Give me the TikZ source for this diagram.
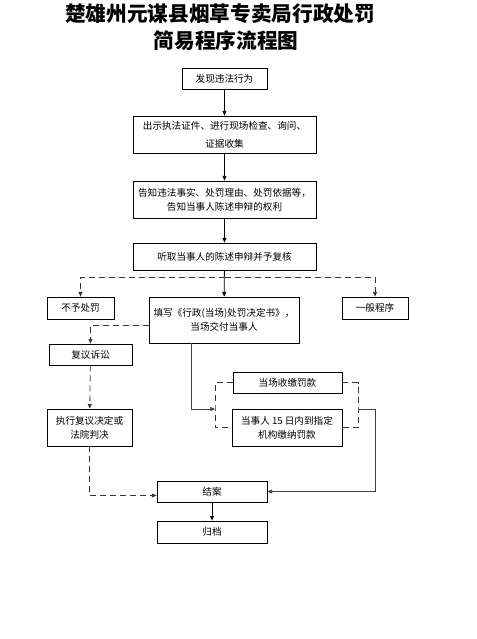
\documentclass[tikz,border=0pt]{standalone}
\usepackage{fontspec}
\newfontfamily\cjk{Noto Sans CJK SC}
\usetikzlibrary{arrows.meta}

\begin{document}
\begin{tikzpicture}[x=0.75pt,y=-0.75pt,
    every node/.style={font=\cjk\fontsize{7.2pt}{10.5pt}\selectfont},
    box/.style={draw,line width=0.6pt,inner sep=0pt,align=center},
    link/.style={line width=0.6pt,-{Triangle[length=3.5pt,width=3pt]}},
    gaplink/.style={link,dashed,dash pattern=on 4.5pt off 3pt,draw=black!80},
    bracket/.style={line width=0.6pt,dashed,dash pattern=on 4.5pt off 3pt,draw=black!80}]
\useasboundingbox (0,0) rectangle (476,639);
% title
\node (title1) at (220,14) {\fontsize{15.5pt}{18pt}\selectfont\bfseries 楚雄州元谋县烟草专卖局行政处罚};
\node (title2) at (226,41) {\fontsize{15.5pt}{18pt}\selectfont\bfseries 简易程序流程图};
% main steps
\node[box,minimum width=63.75pt,minimum height=15.75pt] (find) at (224.5,78.5) {发现违法行为};
\node[box,minimum width=137.25pt,minimum height=27.75pt] (show) at (224.5,134.5) {出示执法证件、进行现场检查、询问、\\[3pt]证据收集};
\node[box,minimum width=137.25pt,minimum height=27.75pt] (inform) at (224.5,199.5) {告知违法事实、处罚理由、处罚依据等，\\告知当事人陈述申辩的权利};
\node[box,minimum width=137.25pt,minimum height=20.25pt] (hear) at (224.5,256.5) {听取当事人的陈述申辩并予复核};
\node[box,minimum width=50.25pt,minimum height=16.5pt] (none) at (80.5,308) {不予处罚};
\node[box,minimum width=112.5pt,minimum height=34.5pt] (fill) at (224,320) {填写《行政(当场)处罚决定书》，\\当场交付当事人};
\node[box,minimum width=49.5pt,minimum height=16.5pt] (general) at (375,308) {一般程序};
\node[box,minimum width=62.25pt,minimum height=15.75pt] (review) at (90.5,354.5) {复议诉讼};
\node[box,minimum width=63.75pt,minimum height=27.75pt] (execute) at (89.5,427.5) {执行复议决定或\\法院判决};
\node[box,minimum width=81.75pt,minimum height=15.75pt] (onsite) at (287.5,382.5) {当场收缴罚款};
\node[box,minimum width=82.5pt,minimum height=27.75pt] (pay15) at (287,427.5) {当事人 15 日内到指定\\机构缴纳罚款};
\node[box,minimum width=82.5pt,minimum height=15.75pt] (close) at (212,491.5) {结案};
\node[box,minimum width=82.5pt,minimum height=16.5pt] (archive) at (212,532) {归档};
% helper points
\coordinate (split) at (224.5,277);
\coordinate (payin) at (215,409);
\coordinate (payout) at (358,409);
% connectors
\draw[link] (find) -- (show);
\draw[link] (show) -- (inform);
\draw[link] (inform) -- (hear);
\draw[link] (hear) -- (fill);
\draw[gaplink] (split) -| (none);
\draw[gaplink] (split) -| (general);
\draw[gaplink] ([yshift=-3.75pt]fill.west) -| (review);
\draw[gaplink] (review) -- (execute);
\draw[gaplink] (execute) |- ([yshift=-3pt]close.west);
\draw[link,draw=black!75] ([xshift=-24.75pt]fill.south) |- (payin);
\draw[bracket] (onsite.west) -| (payin) |- (pay15.west);
\draw[bracket] (onsite.east) -| (payout) |- (pay15.east);
\draw[link,draw=black!75] (payout) -- ++(17,0) |- (close.east);
\draw[link] (close) -- (archive);
\end{tikzpicture}
\end{document}
